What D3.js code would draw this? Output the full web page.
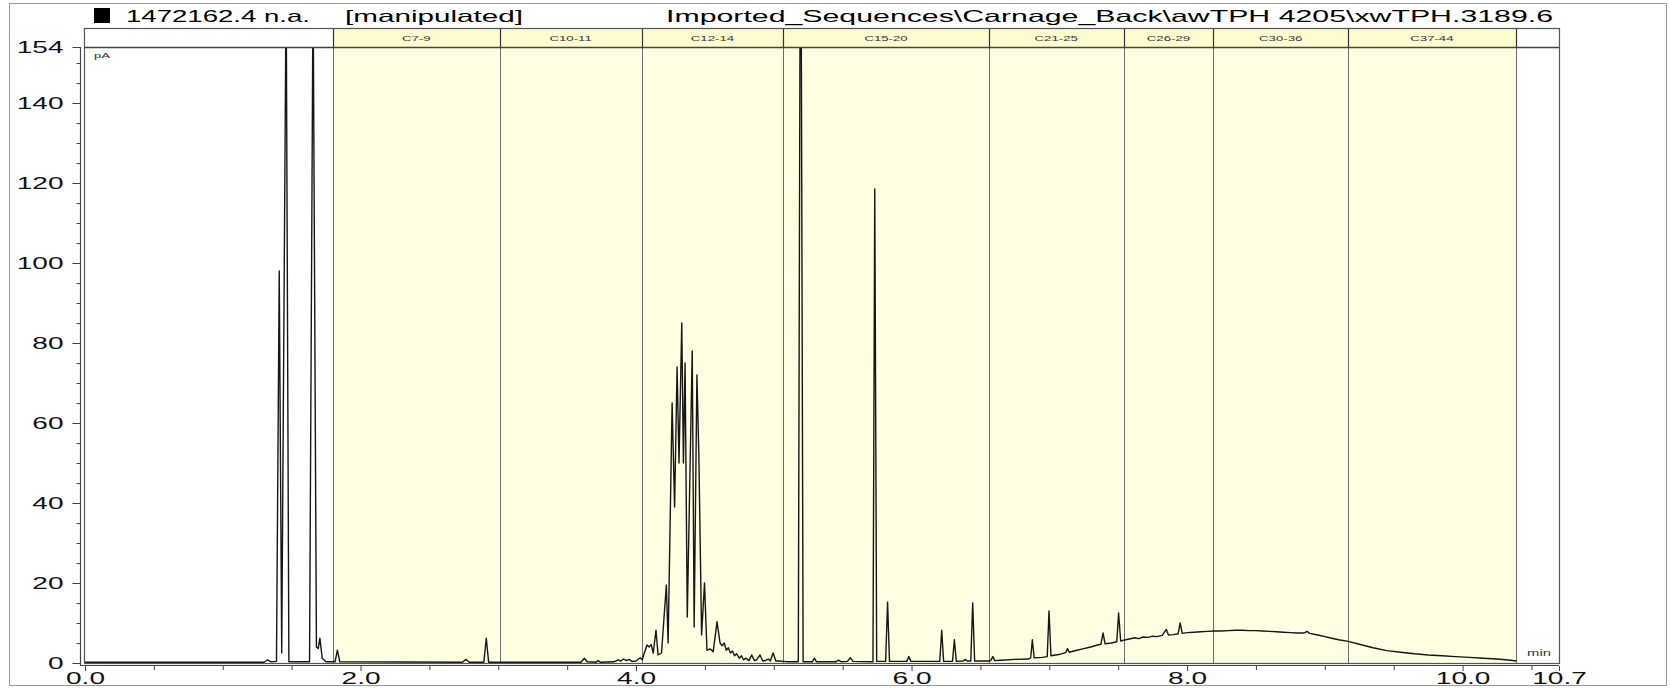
<!DOCTYPE html>
<html><head><meta charset="utf-8">
<script src="https://cdn.jsdelivr.net/npm/d3@7"></script>
<style>
body{margin:0;background:#fff;}
text{font-family:"Liberation Sans",Arial,Helvetica,sans-serif;}
</style>
</head><body>
<svg id="c" width="1670" height="688"></svg>
<script>
// ---------------- data ----------------
const titleLeft = "1472162.4 n.a.";
const titleTag = "[manipulated]";
const titleRight = "Imported_Sequences\\Carnage_Back\\awTPH 4205\\xwTPH.3189.6";
const unitY = "pA";
const unitX = "min";
const bandEdges = [1.80, 3.01, 4.04, 5.07, 6.56, 7.54, 8.19, 9.17, 10.385];
const bandLabels = ["C7-9", "C10-11", "C12-14", "C15-20", "C21-25", "C26-29", "C30-36", "C37-44"];
const yTickValues = [0, 20, 40, 60, 80, 100, 120, 140, 154];
const xTickValues = [0, 2, 4, 6, 8, 10, 10.7];
const xTickLabels = ["0.0", "2.0", "4.0", "6.0", "8.0", "10.0", "10.7"];

// chromatogram trace: [retention time (min), signal (pA)]
const traceLead = [[0,0.2],[1.30,0.2],[1.325,0.8],[1.35,0.3],[1.39,0.4],[1.41,98],[1.428,2.5],[1.457,154],[1.462,154],[1.48,0.3],[1.63,0.3],[1.653,154],[1.658,154],[1.68,4],[1.693,3.6],[1.705,6.2],[1.722,1.2],[1.75,0.3],[1.80,0.3]];
const traceC7 = [[1.815,0.3],[1.832,3.2],[1.85,0.3],[2.74,0.2],[2.765,0.9],[2.79,0.2],[2.895,0.2],[2.913,6.2],[2.93,0.2],[3.01,0.2]];
const traceC10 = [[3.60,0.2],[3.625,1.2],[3.645,0.3],[3.71,0.2],[3.725,0.6],[3.74,0.2],[3.84,0.3],[3.87,0.8],[3.89,0.5],[3.91,1.0],[3.93,0.6],[3.95,0.9],[3.97,0.4],[4.00,0.5],[4.03,1.3],[4.045,0.8]];
const traceC12 = [[4.06,2.5],[4.08,4.5],[4.095,4.0],[4.11,4.6],[4.125,2.5],[4.145,8.2],[4.16,2.0],[4.185,2.5],[4.22,19.5],[4.233,5],[4.262,65],[4.28,39],[4.298,74],[4.312,50],[4.332,85],[4.344,50],[4.356,75],[4.372,11.5],[4.408,78],[4.422,9],[4.442,72],[4.456,52],[4.476,7],[4.497,20],[4.515,3.2],[4.54,3.5],[4.56,2.8],[4.588,10.3],[4.61,5],[4.625,4.3],[4.64,5],[4.655,3.2],[4.67,3.8],[4.685,2.5],[4.70,3],[4.715,1.8],[4.73,2.3],[4.75,1.2],[4.765,1.8],[4.78,0.8],[4.80,1.2],[4.82,0.6],[4.84,2.0],[4.86,0.6],[4.875,0.8],[4.90,2.0],[4.92,0.5],[4.945,0.7],[4.96,1.0],[4.975,0.5],[4.995,2.5],[5.015,0.5],[5.04,0.5],[5.07,0.4]];
const traceC15 = [[5.10,0.3],[5.178,0.3],[5.19,154],[5.200,154],[5.213,0.3],[5.28,0.3],[5.295,1.2],[5.31,0.3],[5.45,0.3],[5.47,0.7],[5.49,0.3],[5.535,0.4],[5.555,1.3],[5.575,0.4],[5.72,0.3],[5.733,118.5],[5.747,0.4],[5.812,0.4],[5.826,15.2],[5.84,0.4],[5.965,0.4],[5.98,1.6],[5.995,0.4],[6.205,0.4],[6.219,8.2],[6.233,0.4],[6.297,0.4],[6.311,5.8],[6.325,0.4],[6.375,0.5],[6.39,0.9],[6.405,0.5],[6.43,0.5],[6.444,15],[6.458,0.5],[6.56,0.5]];
const traceC21 = [[6.575,0.6],[6.59,1.6],[6.605,0.6],[6.65,0.7],[6.75,0.9],[6.85,1.0],[6.865,1.3],[6.877,5.8],[6.89,1.3],[6.95,1.4],[6.985,1.6],[6.998,13],[7.012,1.8],[7.08,2.2],[7.12,2.6],[7.132,3.6],[7.145,2.7],[7.2,3.2],[7.25,3.6],[7.3,4.0],[7.35,4.5],[7.375,4.7],[7.39,7.5],[7.405,4.8],[7.45,5.0],[7.49,5.3],[7.503,12.5],[7.518,5.5],[7.54,5.7]];
const traceC26 = [[7.58,6.0],[7.62,6.3],[7.65,6.1],[7.68,6.5],[7.72,6.4],[7.75,6.7],[7.78,6.6],[7.82,6.9],[7.85,8.4],[7.865,7.0],[7.9,7.1],[7.935,7.3],[7.95,10],[7.965,7.4],[8.0,7.6],[8.05,7.7],[8.1,7.8],[8.15,7.9],[8.19,8.0]];
const traceC30 = [[8.25,8.0],[8.3,8.1],[8.35,8.2],[8.4,8.2],[8.45,8.1],[8.5,8.1],[8.55,8.0],[8.6,7.9],[8.65,7.8],[8.7,7.7],[8.75,7.6],[8.8,7.5],[8.85,7.5],[8.87,7.9],[8.89,7.4],[8.95,7.0],[9.0,6.6],[9.05,6.2],[9.1,5.8],[9.17,5.4]];
const traceC37 = [[9.25,4.7],[9.35,3.8],[9.45,3.1],[9.55,2.7],[9.65,2.3],[9.75,2.0],[9.85,1.8],[9.95,1.6],[10.05,1.4],[10.15,1.2],[10.25,1.0],[10.35,0.7],[10.39,0.5]];

// ---------------- drawing ----------------
const SX = 1.65; // horizontal text stretch of the original picture
const svg = d3.select("#c");
const L = 84, R = 1559, T = 28, HB = 47, B = 663;
const x = d3.scaleLinear().domain([0, 10.7]).range([85, 1559]);
const y = d3.scaleLinear().domain([0, 154]).range([663, 47]);

// outer frame
svg.append("rect").attr("x", 9.5).attr("y", 3.5).attr("width", 1657).attr("height", 682)
  .attr("fill", "none").attr("stroke", "#9a9a9a").attr("stroke-width", 1);

// title row
svg.append("rect").attr("x", 94).attr("y", 8).attr("width", 16).attr("height", 15).attr("fill", "#000");
svg.append("text").attr("x", 126).attr("y", 21.5).attr("textLength", 184).attr("lengthAdjust", "spacingAndGlyphs")
  .style("font-size", "16.5px").text(titleLeft);
svg.append("text").attr("x", 345).attr("y", 21.5).attr("textLength", 178).attr("lengthAdjust", "spacingAndGlyphs")
  .style("font-size", "16.5px").text(titleTag);
svg.append("text").attr("x", 666).attr("y", 21.5).attr("textLength", 887).attr("lengthAdjust", "spacingAndGlyphs")
  .style("font-size", "16.5px").text(titleRight);

// plot background: bands
const bands = bandLabels.map((lab, i) => ({lab, a: bandEdges[i], b: bandEdges[i + 1]}));
svg.append("rect").attr("x", L).attr("y", T).attr("width", R - L).attr("height", B - T).attr("fill", "#fff");
svg.selectAll("rect.band").data(bands).join("rect").attr("class", "band")
  .attr("x", d => x(d.a)).attr("y", HB).attr("width", d => x(d.b) - x(d.a)).attr("height", B - HB)
  .attr("fill", "#fffee2");
svg.selectAll("rect.bandHead").data(bands).join("rect").attr("class", "bandHead")
  .attr("x", d => x(d.a)).attr("y", T).attr("width", d => x(d.b) - x(d.a)).attr("height", HB - T)
  .attr("fill", "#fdfccf");
// band boundary lines
svg.selectAll("line.edge").data(bandEdges).join("line").attr("class", "edge")
  .attr("x1", d => Math.round(x(d)) + 0.5).attr("x2", d => Math.round(x(d)) + 0.5)
  .attr("y1", HB).attr("y2", B).attr("stroke", "#6e6e6e").attr("stroke-width", 1);
svg.selectAll("line.edgeHead").data(bandEdges).join("line").attr("class", "edgeHead")
  .attr("x1", d => Math.round(x(d)) + 0.5).attr("x2", d => Math.round(x(d)) + 0.5)
  .attr("y1", T).attr("y2", HB).attr("stroke", "#333").attr("stroke-width", 1.2);
svg.selectAll("text.bandLab").data(bands).join("text").attr("class", "bandLab")
  .attr("transform", d => `translate(${(x(d.a) + x(d.b)) / 2},41) scale(${SX},1)`)
  .attr("text-anchor", "middle").style("font-size", "8px").attr("fill", "#333").text(d => d.lab);

// trace
const trace = [].concat(traceLead, traceC7, traceC10, traceC12, traceC15, traceC21, traceC26, traceC30, traceC37);
svg.append("clipPath").attr("id", "clip").append("rect").attr("x", L).attr("y", HB).attr("width", R - L).attr("height", B - HB + 1);
svg.append("path").datum(trace).attr("clip-path", "url(#clip)")
  .attr("d", d3.line().x(d => x(d[0])).y(d => y(d[1])))
  .attr("fill", "none").attr("stroke", "#161616").attr("stroke-width", 1.4).attr("stroke-linejoin", "round");

// frame
svg.append("rect").attr("x", L + 0.5).attr("y", T + 0.5).attr("width", R - L).attr("height", B - T)
  .attr("fill", "none").attr("stroke", "#555").attr("stroke-width", 1.2);
svg.append("line").attr("x1", L).attr("x2", R).attr("y1", HB + 0.5).attr("y2", HB + 0.5)
  .attr("stroke", "#444").attr("stroke-width", 1.3);

// unit labels
svg.append("text").attr("transform", `translate(94,58) scale(${SX},1)`).style("font-size", "8px").attr("fill", "#333").text(unitY);
svg.append("text").attr("transform", `translate(1551,656) scale(${SX},1)`).attr("text-anchor", "end").style("font-size", "9px").attr("fill", "#333").text(unitX);

// y axis
const yMinor = d3.range(0, 155, 5).filter(v => v % 20 !== 0);
const gyMinor = svg.append("g").attr("transform", "translate(80.5,0)")
  .call(d3.axisLeft(y).tickValues(yMinor).tickSize(4).tickSizeOuter(0).tickFormat(""));
gyMinor.select(".domain").remove();
const gy = svg.append("g").attr("transform", "translate(80.5,0)")
  .call(d3.axisLeft(y).tickValues(yTickValues).tickSize(8).tickSizeOuter(0).tickFormat(d3.format("d")));
gy.select(".domain").remove();
gy.selectAll("text").attr("x", 0).attr("dy", null).attr("dominant-baseline", "central")
  .attr("transform", `translate(-17,0) scale(${SX},1)`).style("font-size", "17px").attr("fill", "#111");
svg.selectAll("g.tick line").attr("stroke", "#444");
svg.append("line").attr("x1", 80.5).attr("x2", 80.5).attr("y1", 47).attr("y2", 666).attr("stroke", "#444").attr("stroke-width", 1.2);

// x axis
const xMinor = d3.range(0.5, 10.6, 0.5).filter(v => v % 2 !== 0);
const gxMinor = svg.append("g").attr("transform", "translate(0,666)")
  .call(d3.axisBottom(x).tickValues(xMinor).tickSize(4).tickSizeOuter(0).tickFormat(""));
gxMinor.select(".domain").remove();
const gx = svg.append("g").attr("transform", "translate(0,666)")
  .call(d3.axisBottom(x).tickValues(xTickValues).tickSize(5).tickSizeOuter(0).tickFormat((d, i) => xTickLabels[i]));
gx.select(".domain").remove();
gx.selectAll("text").attr("y", 0).attr("dy", null).attr("dominant-baseline", "central")
  .attr("transform", `translate(0,12) scale(${SX},1)`).style("font-size", "17px").attr("fill", "#111");
svg.selectAll("g.tick line").attr("stroke", "#444");
svg.append("line").attr("x1", 80).attr("x2", R).attr("y1", 665.5).attr("y2", 665.5).attr("stroke", "#444").attr("stroke-width", 1.2);
</script>
</body></html>
